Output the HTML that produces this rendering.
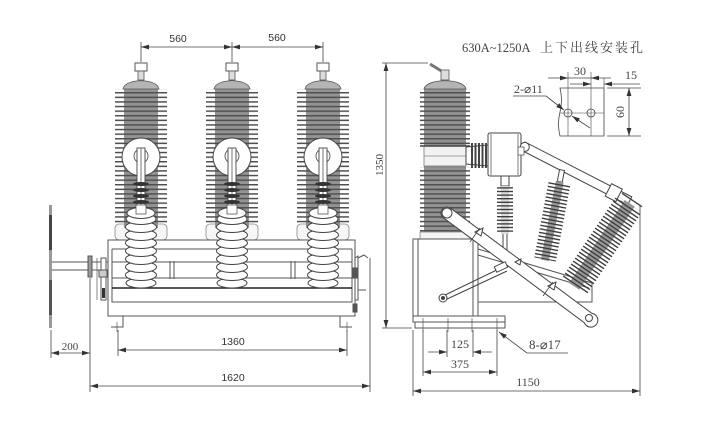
<!DOCTYPE html>
<html><head><meta charset="utf-8">
<style>
html,body{margin:0;padding:0;background:#fff;}
svg{display:block;}
.t{font-family:"Liberation Sans",sans-serif;font-size:10.5px;fill:#333;}
.s{font-family:"Liberation Serif","Noto Serif CJK SC",serif;font-size:12px;fill:#444;}
</style></head><body>
<svg width="726" height="425" viewBox="0 0 726 425" xmlns="http://www.w3.org/2000/svg">
<defs>
<pattern id="sh" patternUnits="userSpaceOnUse" width="4" height="4.6">
<rect x="0" y="0" width="4" height="1.5" fill="#505050"/>
</pattern>
<pattern id="sh2" patternUnits="userSpaceOnUse" width="4" height="3.6">
<rect x="0" y="0" width="4" height="1.4" fill="#3e3e3e"/>
</pattern>
<marker id="a" markerWidth="8" markerHeight="6" refX="8" refY="3" orient="auto-start-reverse" markerUnits="userSpaceOnUse">
<path d="M0,0.6 L8,3 L0,5.4 z" fill="#333"/>
</marker>
<g id="poleU">
<rect x="-6" y="63" width="12" height="8" fill="#fff" stroke="#555" stroke-width="1"/>
<rect x="-3" y="71" width="6" height="9" fill="#ddd" stroke="#555" stroke-width="0.8"/>
<rect x="-26" y="224" width="52" height="16" rx="4" fill="#f6f6f6" stroke="#888" stroke-width="0.8"/>
<rect x="-17" y="88" width="34" height="140" fill="#939393"/>
<rect x="-26" y="89" width="52" height="136" fill="url(#sh)"/>
<path d="M-18,89 C-16,78 16,78 18,89 Z" fill="#b4b4b4" stroke="#555" stroke-width="0.8"/>
<circle cx="0" cy="157" r="19" fill="#fff" stroke="#444" stroke-width="1"/>
<circle cx="0" cy="156" r="7" fill="none" stroke="#555" stroke-width="0.9"/>
<rect x="-4" y="148" width="8" height="66" fill="#fff" stroke="#444" stroke-width="0.9"/>
<line x1="0" y1="148" x2="0" y2="214" stroke="#555" stroke-width="0.8"/>
<ellipse cx="0" cy="184" rx="8" ry="2" fill="#333"/>
<ellipse cx="0" cy="190" rx="8" ry="2" fill="#333"/>
<ellipse cx="0" cy="196" rx="8" ry="2" fill="#333"/>
<ellipse cx="0" cy="202" rx="8" ry="2" fill="#333"/>
<ellipse cx="0" cy="208" rx="7" ry="2" fill="#333"/>
</g>
<g id="stack" fill="#fff" stroke="#444" stroke-width="1">
<ellipse cx="0" cy="283" rx="15" ry="5"/>
<ellipse cx="0" cy="275" rx="15.5" ry="5.5"/>
<ellipse cx="0" cy="267" rx="15.5" ry="5.5"/>
<ellipse cx="0" cy="259" rx="15.5" ry="5.5"/>
<ellipse cx="0" cy="251" rx="15.5" ry="5.5"/>
<ellipse cx="0" cy="243" rx="15.5" ry="5.5"/>
<ellipse cx="0" cy="235" rx="15.5" ry="5.5"/>
<ellipse cx="0" cy="227" rx="15.5" ry="5.5"/>
<ellipse cx="0" cy="219" rx="15" ry="5.5"/>
<ellipse cx="0" cy="213" rx="14" ry="5.5"/>
<rect x="-5" y="205" width="10" height="9" stroke="#555" stroke-width="0.8"/>
</g>
</defs>

<!-- ============ LEFT VIEW ============ -->
<g stroke="#444" fill="none">
<line x1="141" y1="42" x2="141" y2="62" stroke-width="0.8"/>
<line x1="232" y1="42" x2="232" y2="62" stroke-width="0.8"/>
<line x1="323" y1="42" x2="323" y2="62" stroke-width="0.8"/>
<line x1="141" y1="47" x2="232" y2="47" stroke-width="0.8" marker-start="url(#a)" marker-end="url(#a)"/>
<line x1="232" y1="47" x2="323" y2="47" stroke-width="0.8" marker-start="url(#a)" marker-end="url(#a)"/>
</g>
<text class="t" x="178" y="42" text-anchor="middle">560</text>
<text class="t" x="277" y="41" text-anchor="middle">560</text>

<use href="#poleU" x="141"/>
<use href="#poleU" x="232"/>
<use href="#poleU" x="323"/>

<!-- frame -->
<g stroke="#555" stroke-width="1" fill="#fff">
<rect x="108" y="240" width="247" height="76"/>
<line x1="112" y1="249" x2="352" y2="249"/>
<line x1="112" y1="249" x2="112" y2="302"/>
<line x1="352" y1="249" x2="352" y2="302"/>
<line x1="112" y1="262" x2="352" y2="262"/>
<line x1="112" y1="278" x2="352" y2="278"/>
<line x1="170" y1="261" x2="170" y2="279"/>
<line x1="174" y1="261" x2="174" y2="279"/>
<line x1="291" y1="261" x2="291" y2="279"/>
<line x1="295" y1="261" x2="295" y2="279"/>
<rect x="112" y="288" width="240" height="14"/>
<line x1="112" y1="288" x2="352" y2="288" stroke="#222" stroke-width="1.6"/>
<polyline points="123,316 123,327 111,327" fill="none"/>
<polyline points="340,316 340,327 352,327" fill="none"/>
<line x1="117" y1="322" x2="117" y2="332" stroke-width="0.7"/>
<line x1="347" y1="322" x2="347" y2="332" stroke-width="0.7"/>
</g>
<!-- left mechanism -->
<g stroke="#555" stroke-width="1">
<rect x="49" y="205" width="3" height="123" fill="#999" stroke="none"/>
<rect x="49" y="215" width="3" height="35" fill="#444" stroke="none"/>
<rect x="49" y="280" width="3" height="35" fill="#555" stroke="none"/>
<line x1="52" y1="262" x2="108" y2="262"/>
<line x1="52" y1="270" x2="108" y2="270"/>
<rect x="88" y="256" width="4" height="21" fill="#999"/>
<rect x="101" y="258" width="5" height="42" fill="#fff"/>
<rect x="99" y="270" width="8" height="7" fill="#ccc"/>
<rect x="102" y="288" width="3" height="10" fill="#333" stroke="none"/>
<line x1="97" y1="258" x2="97" y2="300" stroke-width="0.7"/>
</g>
<!-- right bracket -->
<g stroke="#555" stroke-width="1" fill="none">
<path d="M355,258 L358,256 L358,300 L355,300"/>
<path d="M358,258 L364,255 L368,258"/>
<rect x="353" y="268" width="4" height="10" fill="#555"/>
<rect x="353" y="304" width="4" height="8" fill="#555"/>
<line x1="358" y1="290" x2="366" y2="290"/>
</g>

<use href="#stack" x="141"/>
<use href="#stack" x="232"/>
<use href="#stack" x="323"/>

<!-- left dims -->
<g stroke="#444" stroke-width="0.8" fill="none">
<line x1="51" y1="330" x2="51" y2="358"/>
<line x1="90" y1="278" x2="90" y2="392"/>
<line x1="51" y1="353" x2="90" y2="353" marker-start="url(#a)" marker-end="url(#a)"/>
<line x1="118" y1="330" x2="118" y2="356"/>
<line x1="347" y1="330" x2="347" y2="356"/>
<line x1="118" y1="350" x2="347" y2="350" marker-start="url(#a)" marker-end="url(#a)"/>
<line x1="370" y1="258" x2="370" y2="392"/>
<line x1="90" y1="386" x2="370" y2="386" marker-start="url(#a)" marker-end="url(#a)"/>
</g>
<text class="s" x="70" y="350" text-anchor="middle" style="font-size:11px">200</text>
<text class="t" x="233" y="345" text-anchor="middle">1360</text>
<text class="t" x="233" y="381" text-anchor="middle">1620</text>

<!-- ============ RIGHT VIEW ============ -->
<g stroke="#444" stroke-width="0.8" fill="none">
<line x1="382" y1="63" x2="428" y2="63"/>
<line x1="382" y1="328" x2="412" y2="328"/>
<line x1="386" y1="63" x2="386" y2="328" marker-start="url(#a)" marker-end="url(#a)"/>
</g>
<text class="s" transform="translate(383,165) rotate(-90)" text-anchor="middle" style="font-size:11px">1350</text>

<!-- title -->
<text class="s" x="462" y="52" style="font-size:12.5px">630A~1250A<tspan x="540" style="font-size:13px;letter-spacing:2px">上下出线安装孔</tspan></text>

<!-- hole detail -->
<g stroke="#444" stroke-width="0.8" fill="none">
<path d="M604,88 L560,88 Q563,100 560,112 Q557,124 560,136 L604,136 Z" fill="#fff"/>
<circle cx="568" cy="113" r="4"/>
<circle cx="591" cy="113" r="4"/>
<line x1="568" y1="72" x2="568" y2="136" stroke-width="0.6"/>
<line x1="591" y1="72" x2="591" y2="136" stroke-width="0.6"/>
<line x1="560" y1="113" x2="604" y2="113" stroke-width="0.6"/>
<line x1="548" y1="78" x2="568" y2="78" marker-end="url(#a)"/>
<line x1="611" y1="78" x2="591" y2="78" marker-end="url(#a)"/>
<line x1="568" y1="78" x2="591" y2="78"/>
<line x1="604" y1="78" x2="604" y2="88" stroke-width="0.6"/>
<line x1="570" y1="84" x2="591" y2="84" marker-end="url(#a)"/>
<line x1="640" y1="84" x2="604" y2="84" marker-end="url(#a)"/>
<line x1="607" y1="88" x2="641" y2="88"/>
<line x1="607" y1="136" x2="641" y2="136"/>
<line x1="629" y1="88" x2="629" y2="136" marker-start="url(#a)" marker-end="url(#a)"/>
<line x1="513" y1="96" x2="546" y2="96"/>
<line x1="546" y1="96" x2="564" y2="110" marker-end="url(#a)"/>
<line x1="590" y1="128" x2="572" y2="116" marker-end="url(#a)"/>
</g>
<text class="s" x="580" y="75" text-anchor="middle">30</text>
<text class="s" x="631" y="79" text-anchor="middle">15</text>
<text class="s" x="514" y="93">2-⌀11</text>
<text class="s" transform="translate(624,112) rotate(-90)" text-anchor="middle">60</text>

<!-- right pole -->
<g stroke="#555" stroke-width="1">
<line x1="430" y1="64" x2="443" y2="72" stroke-width="3" stroke="#777"/>
<rect x="441" y="70" width="8" height="10" fill="#ddd" stroke-width="0.8"/>
<rect x="424" y="88" width="42" height="146" fill="#939393" stroke="none"/>
<rect x="420" y="89" width="50" height="56" fill="url(#sh)" stroke="none"/>
<rect x="424" y="146" width="42" height="20" fill="#f2f2f2" stroke="#777" stroke-width="0.8"/>
<line x1="420" y1="146" x2="470" y2="146" stroke="#444" stroke-width="1.6"/>
<line x1="424" y1="156" x2="466" y2="156" stroke="#888" stroke-width="0.8"/>
<rect x="420" y="167" width="50" height="66" fill="url(#sh)" stroke="none"/>
<path d="M424,89 C426,78 464,78 466,89 Z" fill="#b4b4b4" stroke-width="0.8"/>
<rect x="420" y="232" width="50" height="8" fill="#f4f4f4" stroke="#888" stroke-width="0.8"/>
<rect x="413" y="239" width="65" height="77" fill="#fff"/>
<line x1="418" y1="239" x2="418" y2="316"/>
<line x1="473" y1="239" x2="473" y2="316"/>
<rect x="413" y="316" width="92" height="6" fill="#fff"/>
<rect x="415" y="322" width="90" height="6" fill="#fff"/>
<line x1="423" y1="318" x2="423" y2="332" stroke-width="0.7"/>
<line x1="448" y1="318" x2="448" y2="332" stroke-width="0.7"/>
<line x1="472" y1="318" x2="472" y2="332" stroke-width="0.7"/>
<line x1="497" y1="318" x2="497" y2="332" stroke-width="0.7"/>
</g>
<!-- bushing + CT cylinder -->
<g stroke="#444" stroke-width="1">
<path d="M466,147 L488,145 L488,166 L466,164 Z" fill="#fff"/>
<line x1="472" y1="143" x2="472" y2="168" stroke-width="2"/>
<line x1="475.5" y1="143" x2="475.5" y2="168" stroke-width="2"/>
<line x1="479" y1="143" x2="479" y2="168" stroke-width="2"/>
<line x1="482.5" y1="143" x2="482.5" y2="168" stroke-width="2"/>
<line x1="486" y1="143" x2="486" y2="168" stroke-width="2"/>
<rect x="488" y="133" width="33" height="43" rx="2" fill="#fff"/>
<line x1="491" y1="134" x2="491" y2="175" stroke-width="0.7"/>
<line x1="518" y1="134" x2="518" y2="175" stroke-width="0.7"/>
<rect x="501" y="176" width="8" height="10" fill="#fff"/>
<rect x="501" y="186" width="8" height="48" fill="#ddd" stroke="none"/>
<rect x="497" y="187" width="16" height="46" fill="url(#sh2)" stroke="none"/>
<line x1="503" y1="234" x2="503" y2="252"/>
<line x1="507" y1="234" x2="507" y2="252"/>
</g>
<!-- upper arm -->
<g transform="translate(523,146) rotate(27.2)" stroke="#444" stroke-width="1">
<rect x="0" y="-4.5" width="120" height="9" fill="#fff"/>
<rect x="96" y="-7" width="12" height="14" fill="#fff"/>
<circle cx="2" cy="0" r="4.5" fill="#fff"/>
</g>
<rect x="518" y="147" width="6" height="8" fill="#fff" stroke="#555" stroke-width="0.8"/>
<!-- slanted base plate -->
<g stroke="#555" stroke-width="1" fill="#fff">
<path d="M478,249 L592,283 L592,302 L478,302 Z"/>
<line x1="478" y1="255" x2="589" y2="288"/>
</g>
<!-- middle diagonal insulator -->
<g transform="translate(562,170) rotate(10.7)" stroke="#444" stroke-width="1">
<rect x="-2.5" y="0" width="5" height="12" fill="#fff"/>
<rect x="-4" y="12" width="8" height="80" fill="#999" stroke="none"/>
<rect x="-11" y="13" width="22" height="78" fill="url(#sh2)" stroke="none"/>
</g>
<!-- right big diagonal insulator -->
<g transform="translate(632,200) rotate(33.8)" stroke="#444" stroke-width="1">
<line x1="-12" y1="0" x2="12" y2="0" stroke-width="1.4"/>
<rect x="-6" y="4" width="12" height="100" fill="#999" stroke="none"/>
<rect x="-15" y="5" width="30" height="98" fill="url(#sh2)" stroke="none"/>
</g>
<!-- long operating arm -->
<g stroke="#444" stroke-width="1">
<path d="M450.6,208.2 L591.6,313.2 A7,7 0 1 1 584.4,322.8 L443.4,217.8 A6,6 0 0 1 450.6,208.2 Z" fill="#fff"/>
<circle cx="447" cy="213" r="5" fill="#fff"/>
<circle cx="589" cy="318" r="3.5" fill="#fff"/>
<path d="M475,232 l8,-4 l-2,8 z M548,286 l8,-4 l-2,8 z M515,262 l6,-3 l-1,6 z" fill="#fff"/>
<line x1="470" y1="242" x2="480" y2="228" stroke-width="0.8"/>
<line x1="543" y1="296" x2="553" y2="282" stroke-width="0.8"/>
<line x1="443" y1="296" x2="505" y2="266"/>
<line x1="445" y1="300" x2="507" y2="271"/>
<circle cx="443" cy="298" r="4" fill="#fff"/>
<circle cx="443" cy="298" r="1.5" fill="#444"/>
<rect x="495" y="264" width="12" height="6" fill="#fff" transform="rotate(-25 501 267)"/>
</g>

<!-- right dims -->
<g stroke="#444" stroke-width="0.8" fill="none">
<line x1="447" y1="330" x2="447" y2="357"/>
<line x1="473" y1="330" x2="473" y2="357"/>
<line x1="428" y1="352" x2="447" y2="352" marker-end="url(#a)"/>
<line x1="492" y1="352" x2="473" y2="352" marker-end="url(#a)"/>
<line x1="423" y1="330" x2="423" y2="376"/>
<line x1="497" y1="330" x2="497" y2="376"/>
<line x1="423" y1="372" x2="497" y2="372" marker-start="url(#a)" marker-end="url(#a)"/>
<line x1="413" y1="330" x2="413" y2="396"/>
<line x1="640" y1="205" x2="640" y2="396"/>
<line x1="413" y1="391" x2="640" y2="391" marker-start="url(#a)" marker-end="url(#a)"/>
<line x1="527" y1="353" x2="499" y2="332" marker-end="url(#a)"/>
<line x1="527" y1="353" x2="568" y2="353"/>
</g>
<text class="s" x="460" y="348" text-anchor="middle">125</text>
<text class="s" x="460" y="368" text-anchor="middle">375</text>
<text class="s" x="528" y="386" text-anchor="middle">1150</text>
<text class="s" x="529" y="349" style="font-size:13px">8-⌀17</text>
</svg>
</body></html>
